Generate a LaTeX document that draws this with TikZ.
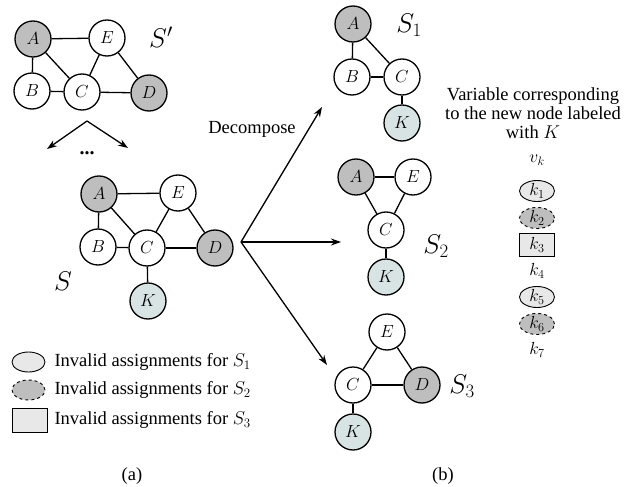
\RequirePackage{fix-cm}
\documentclass[tikz,border=0pt]{standalone}
\usepackage[no-math]{fontspec}
\setmainfont{Liberation Serif}
\usetikzlibrary{shapes.geometric,arrows.meta}
\definecolor{dgray}{HTML}{BEBEBE}
\definecolor{kblue}{HTML}{D8E4E4}
\definecolor{lgray}{HTML}{E8E8E8}
\begin{document}
\begin{tikzpicture}[x=1pt,y=-1pt,
  vtx/.style={circle,draw,line width=1.3pt,minimum size=36pt,inner sep=0pt,font=\fontsize{17.5}{17.5}\selectfont},
  grayv/.style={vtx,fill=dgray},
  whitev/.style={vtx,fill=white},
  kv/.style={vtx,fill=kblue},
  edge/.style={line width=1.3pt},
  arr/.style={line width=1.3pt,-{Stealth[length=10pt,width=7pt]}},
  txt/.style={font=\fontsize{18.5}{19}\selectfont},
  glabel/.style={font=\fontsize{27}{27}\selectfont},
  varlbl/.style={inner sep=0pt,font=\fontsize{17.5}{17.5}\selectfont},
  ellS1/.style={ellipse,draw,line width=0.9pt,fill=lgray,minimum width=35pt,minimum height=21pt,inner sep=0pt,font=\fontsize{17.5}{17.5}\selectfont},
  ellS2/.style={ellipse,draw,dashed,line width=0.9pt,fill=dgray,minimum width=35pt,minimum height=21pt,inner sep=0pt,font=\fontsize{17.5}{17.5}\selectfont},
  boxS3/.style={rectangle,draw,line width=0.9pt,fill=lgray,minimum width=35pt,minimum height=23pt,inner sep=0pt,font=\fontsize{17.5}{17.5}\selectfont}
]
\useasboundingbox (0,0) rectangle (632,487);

% ---------- S' ----------
\node[grayv]  (pA) at (33,39)  {$A$};
\node[whitev] (pE) at (107,38) {$E$};
\node[whitev] (pB) at (32,91)  {$B$};
\node[whitev] (pC) at (82,92)  {$C$};
\node[grayv]  (pD) at (149,93) {$D$};
\draw[edge] (pA) -- (pE);
\draw[edge] (pA) -- (pB);
\draw[edge] (pA) -- (pC);
\draw[edge] (pB) -- (pC);
\draw[edge] (pC) -- (pE);
\draw[edge] (pC) -- (pD);
\draw[edge] (pE) -- (pD);
\node[glabel] (lSp) at (161,37) {$S'$};

\coordinate (apex) at (87,121);
\coordinate (tipL) at (47,149);
\coordinate (tipR) at (128,148);
\draw[arr] (apex) -- (tipL);
\draw[arr] (apex) -- (tipR);
\node[font=\fontsize{20}{20}\selectfont\bfseries] (dots) at (87,153) {...};

% ---------- S ----------
\node[grayv]  (sA) at (99,194)  {$A$};
\node[whitev] (sE) at (178,193) {$E$};
\node[whitev] (sB) at (98,247)  {$B$};
\node[whitev] (sC) at (147,248) {$C$};
\node[grayv]  (sD) at (215,248) {$D$};
\node[kv]     (sK) at (148,301) {$K$};
\draw[edge] (sA) -- (sE);
\draw[edge] (sA) -- (sB);
\draw[edge] (sA) -- (sC);
\draw[edge] (sB) -- (sC);
\draw[edge] (sC) -- (sE);
\draw[edge] (sC) -- (sD);
\draw[edge] (sE) -- (sD);
\draw[edge] (sC) -- (sK);
\node[glabel] (lS) at (63,281) {$S$};

% ---------- Decompose ----------
\coordinate (dec) at (241,242);
\coordinate (d1) at (322,107);
\coordinate (d2) at (341,242);
\coordinate (d3) at (327,365);
\draw[arr] (dec) -- (d1);
\draw[arr] (dec) -- (d2);
\draw[arr] (dec) -- (d3);
\node[txt] (decl) at (252,129) {Decompose};

% ---------- S1 ----------
\node[grayv]  (aA) at (353,24)  {$A$};
\node[whitev] (aB) at (352,77)  {$B$};
\node[whitev] (aC) at (402,77)  {$C$};
\node[kv]     (aK) at (402,123) {$K$};
\draw[edge] (aA) -- (aB);
\draw[edge] (aA) -- (aC);
\draw[edge] (aB) -- (aC);
\draw[edge] (aC) -- (aK);
\node[glabel] (lS1) at (409,25) {$S_1$};

% ---------- S2 ----------
\node[grayv]  (bA) at (356,177) {$A$};
\node[whitev] (bE) at (413,177) {$E$};
\node[whitev] (bC) at (386,230) {$C$};
\node[kv]     (bK) at (386,277) {$K$};
\draw[edge] (bA) -- (bE);
\draw[edge] (bA) -- (bC);
\draw[edge] (bE) -- (bC);
\draw[edge] (bC) -- (bK);
\node[glabel] (lS2) at (436,246) {$S_2$};

% ---------- S3 ----------
\node[whitev] (cE) at (387,332) {$E$};
\node[whitev] (cC) at (353,385) {$C$};
\node[grayv]  (cD) at (422,385) {$D$};
\node[kv]     (cK) at (353,432) {$K$};
\draw[edge] (cE) -- (cC);
\draw[edge] (cE) -- (cD);
\draw[edge] (cC) -- (cD);
\draw[edge] (cC) -- (cK);
\node[glabel] (lS3) at (462,386) {$S_3$};

% ---------- right column ----------
\node[txt,align=center] (vtext) at (533,113) {Variable corresponding\\to the new node labeled\\with $K$};
\node[varlbl] (vk) at (537,160) {$v_k$};
\node[ellS1] (k1) at (537,191) {$k_1$};
\node[ellS2] (k2) at (537,218) {$k_2$};
\node[boxS3] (k3) at (537,245) {$k_3$};
\node[varlbl] (k4) at (537,271) {$k_4$};
\node[ellS1] (k5) at (537,297) {$k_5$};
\node[ellS2] (k6) at (537,324) {$k_6$};
\node[varlbl] (k7) at (537,350) {$k_7$};

% ---------- legend ----------
\node[ellS1,minimum width=33pt,minimum height=20pt] (le1) at (28.5,362) {};
\node[txt,anchor=west] (lt1) at (51,362) {Invalid assignments for $S_1$};
\node[ellS2,minimum width=33pt,minimum height=20pt] (le2) at (28.5,390) {};
\node[txt,anchor=west] (lt2) at (51,390) {Invalid assignments for $S_2$};
\node[boxS3,minimum width=35pt,minimum height=24pt] (le3) at (29.5,420) {};
\node[txt,anchor=west] (lt3) at (51,420) {Invalid assignments for $S_3$};

% ---------- captions ----------
\node[txt] (capa) at (132,476) {(a)};
\node[txt] (capb) at (443,476) {(b)};
\end{tikzpicture}
\end{document}
